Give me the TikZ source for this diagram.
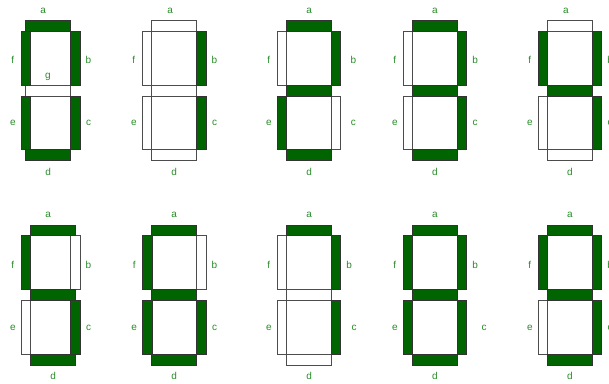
\documentclass[tikz,border=0pt]{standalone}
\usepackage{fontspec}
\setsansfont{Liberation Sans}
\usepackage{xcolor}
\usepackage{tikz}
\usetikzlibrary{calc}
\definecolor{segGreen}{RGB}{0,100,0}
\definecolor{labelGreen}{RGB}{40,140,40}
\tikzset{
  seg off/.style={draw=black!70, line width=0.75pt, fill=white},
  seg on/.style={draw=black!80, line width=0.75pt, fill=segGreen},
  seg label/.style={text=labelGreen, font=\sffamily\fontsize{10}{12}\selectfont, inner sep=0pt},
}

\begin{document}
\begin{tikzpicture}[x=1pt,y=-1pt]
    \useasboundingbox (0,0) rectangle (609,383);
    \foreach \n/\X/\H/\B/\Y/\da/\db/\dc/\on in {
        0/21.3/25.7/70.7/20.7/-5/0/0/{a,b,c,d,e,f},
        1/142.3/151.7/196.7/20.7/-4/0/0/{b,c},
        2/277.3/286.7/331/20.7/0/4.5/4.5/{a,b,d,e,g},
        3/403.3/412.3/457.3/20.7/0/0/0/{a,b,c,d,g},
        4/538.3/547.3/592.3/20.7/-4/0/0/{b,c,f,g},
        5/21.3/30.7/70.7/225/-5/0/0/{a,c,d,f,g},
        6/142.7/151.7/196.7/225/0/0/0/{a,c,d,e,f,g},
        7/277.3/286.7/331.3/225/0/0/5/{a,b,c},
        8/403.3/412.3/457.3/225/0/0/9/{a,b,c,d,e,f,g},
        9/538.3/547.3/592.3/225/0/0/0/{a,b,c,d,f,g}} {
        \coordinate (a\n-1) at (\H,\Y);        \coordinate (a\n-2) at (\H+45,\Y+10.7);
        \coordinate (f\n-1) at (\X,\Y+10.7);   \coordinate (f\n-2) at (\X+9.3,\Y+64.5);
        \coordinate (b\n-1) at (\B,\Y+10.7);   \coordinate (b\n-2) at (\B+9.3,\Y+64.5);
        \coordinate (g\n-1) at (\H,\Y+64.5);   \coordinate (g\n-2) at (\H+45,\Y+75.2);
        \coordinate (e\n-1) at (\X,\Y+75.2);   \coordinate (e\n-2) at (\X+9.3,\Y+129);
        \coordinate (c\n-1) at (\B,\Y+75.2);   \coordinate (c\n-2) at (\B+9.3,\Y+129);
        \coordinate (d\n-1) at (\H,\Y+129);    \coordinate (d\n-2) at (\H+45,\Y+140);
        \foreach \s in {a,b,c,d,e,f,g}
            \draw[seg off] (\s\n-1) rectangle (\s\n-2);
        \foreach \s in \on
            \filldraw[seg on] (\s\n-1) rectangle (\s\n-2);
        \node[seg label] (la\n) at (\H+22.5+\da,\Y-10) {a};
        \node[seg label] (lf\n) at (\X-8.5,\Y+39.5) {f};
        \node[seg label] (lb\n) at (\B+17.8+\db,\Y+39.5) {b};
        \node[seg label] (le\n) at (\X-8.5,\Y+102.5) {e};
        \node[seg label] (lc\n) at (\B+17.8+\dc,\Y+102.5) {c};
        \node[seg label] (ld\n) at (\H+22.5,\Y+151) {d};
    }
    \node[seg label] (lg0) at (48,77) {g};
\end{tikzpicture}
\end{document}
